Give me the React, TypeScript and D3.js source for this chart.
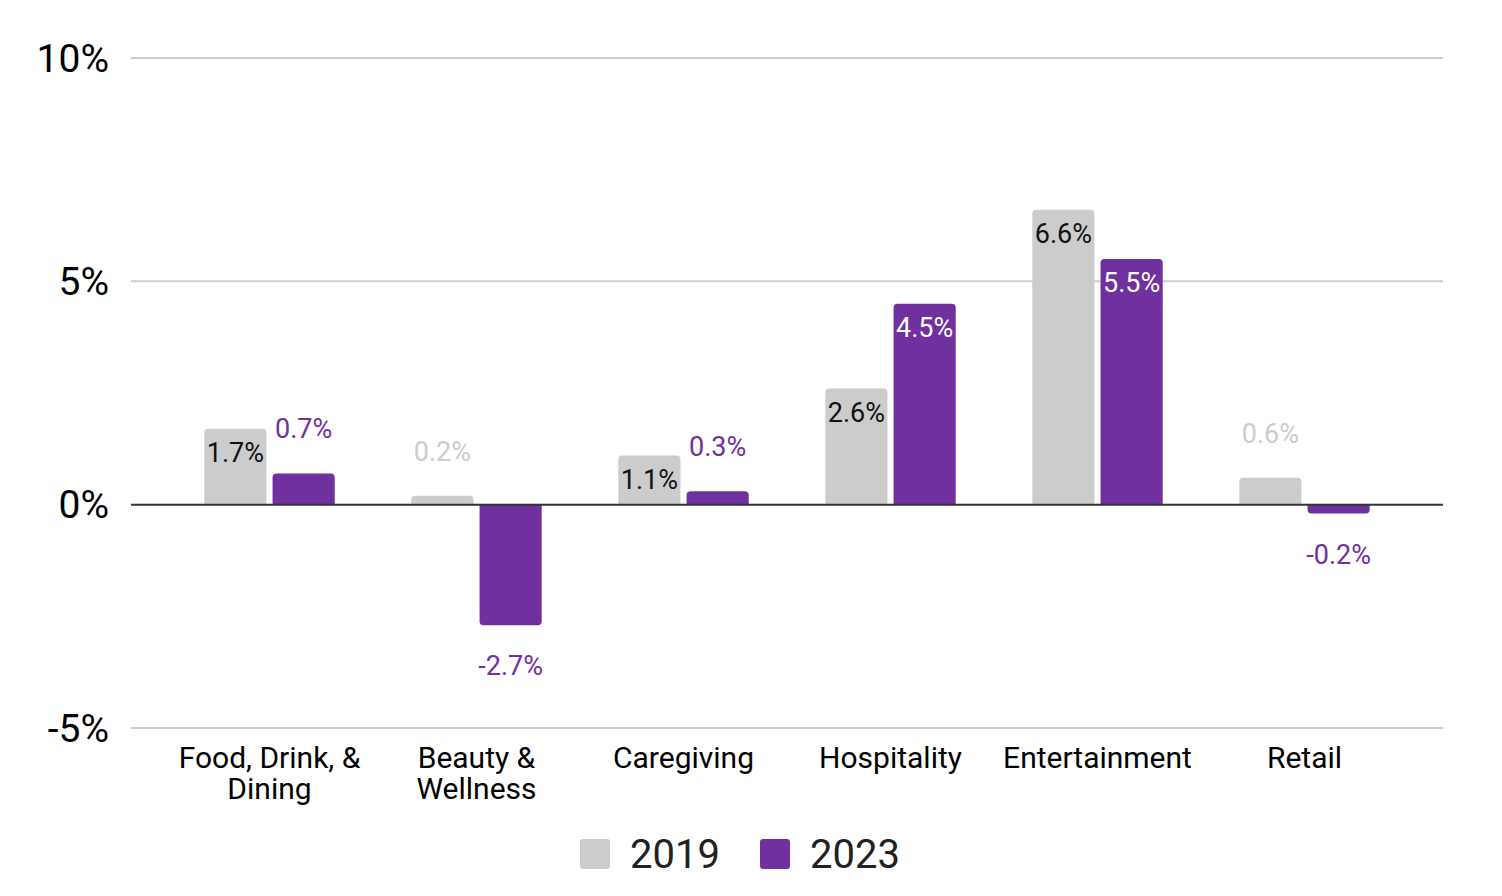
import * as d3 from "d3";
import { useEffect, useRef } from "react";

const categories = [
  "Food, Drink, &|Dining",
  "Beauty &|Wellness",
  "Caregiving",
  "Hospitality",
  "Entertainment",
  "Retail",
];
const series = ["2019", "2023"];
const values2019 = [1.7, 0.2, 1.1, 2.6, 6.6, 0.6];
const values2023 = [0.7, -2.7, 0.3, 4.5, 5.5, -0.2];
const yTicks = [-5, 0, 5, 10];

const GRAY = "#cccccc";
const PURPLE = "#7030a0";
const FONT = "Roboto, 'Noto Sans', sans-serif";

const App: React.FC = () => {
  const ref = useRef<SVGSVGElement | null>(null);

  useEffect(() => {
    const width = 1502;
    const height = 896;
    const svg = d3.select(ref.current);
    svg.selectAll("*").remove();

    const y = d3.scaleLinear().domain([-5, 10]).range([728, 58]);
    const x0 = d3
      .scaleBand()
      .domain(categories)
      .range([166, 1408])
      .paddingInner(0.37)
      .paddingOuter(0.185);
    const x1 = d3
      .scaleBand()
      .domain(series)
      .range([0, x0.bandwidth()])
      .paddingInner(0.09);

    // gridlines
    svg
      .append("g")
      .selectAll("line")
      .data(yTicks.filter((t) => t !== 0))
      .enter()
      .append("line")
      .attr("x1", 131)
      .attr("x2", 1443)
      .attr("y1", (d) => y(d))
      .attr("y2", (d) => y(d))
      .attr("stroke", "#cccccc")
      .attr("stroke-width", 2);

    // tick labels
    svg
      .append("g")
      .selectAll("text")
      .data(yTicks)
      .enter()
      .append("text")
      .attr("x", 109)
      .attr("y", (d) => y(d))
      .attr("dy", "0.35em")
      .attr("text-anchor", "end")
      .attr("font-family", FONT)
      .attr("font-size", 39)
      .attr("fill", "#000")
      .text((d) => `${d}%`);

    const r = 4;
    const barPath = (bx: number, w: number, v: number) => {
      const y0 = y(0);
      const y1 = y(v);
      const h = Math.abs(y1 - y0);
      const rr = Math.min(r, h / 2, w / 2);
      if (v >= 0) {
        return `M${bx},${y0}V${y1 + rr}Q${bx},${y1} ${bx + rr},${y1}H${bx + w - rr}Q${bx + w},${y1} ${bx + w},${y1 + rr}V${y0}Z`;
      }
      return `M${bx},${y0}V${y1 - rr}Q${bx},${y1} ${bx + rr},${y1}H${bx + w - rr}Q${bx + w},${y1} ${bx + w},${y1 - rr}V${y0}Z`;
    };

    const data = categories.map((c, i) => ({
      cat: c,
      vals: [values2019[i], values2023[i]],
    }));

    const groups = svg
      .append("g")
      .selectAll("g")
      .data(data)
      .enter()
      .append("g")
      .attr("transform", (d) => `translate(${x0(d.cat)},0)`);

    groups
      .selectAll("path")
      .data((d) => d.vals.map((v, j) => ({ v, s: series[j] })))
      .enter()
      .append("path")
      .attr("d", (d) => barPath(x1(d.s) || 0, x1.bandwidth(), d.v))
      .attr("fill", (d) => (d.s === "2019" ? GRAY : PURPLE));

    // zero line
    svg
      .append("line")
      .attr("x1", 131)
      .attr("x2", 1443)
      .attr("y1", y(0))
      .attr("y2", y(0))
      .attr("stroke", "#333333")
      .attr("stroke-width", 2);

    // value labels
    groups
      .selectAll("text.val")
      .data((d) => d.vals.map((v, j) => ({ v, s: series[j] })))
      .enter()
      .append("text")
      .attr("class", "val")
      .attr("x", (d) => (x1(d.s) || 0) + x1.bandwidth() / 2)
      .attr("y", (d) => {
        const h = Math.abs(y(d.v) - y(0));
        if (d.v >= 0) return h > 40 ? y(d.v) + 33 : y(d.v) - 35;
        return y(d.v) + 50;
      })
      .attr("text-anchor", "middle")
      .attr("font-family", FONT)
      .attr("font-size", 27)
      .attr("fill", (d) => {
        const inside = d.v >= 0 && Math.abs(y(d.v) - y(0)) > 40;
        if (d.s === "2019") return inside ? "#111111" : GRAY;
        return inside ? "#ffffff" : PURPLE;
      })
      .text((d) => `${d.v.toFixed(1)}%`);

    // category labels
    const cl = svg
      .append("g")
      .selectAll("text")
      .data(categories)
      .enter()
      .append("text")
      .attr("x", (d) => (x0(d) || 0) + x0.bandwidth() / 2)
      .attr("y", 768)
      .attr("text-anchor", "middle")
      .attr("font-family", FONT)
      .attr("font-size", 30)
      .attr("fill", "#000");
    cl.each(function (d) {
      const lines = d.split("|");
      const t = d3.select(this);
      lines.forEach((ln, k) => {
        t.append("tspan")
          .attr("x", (x0(d) || 0) + x0.bandwidth() / 2)
          .attr("dy", k === 0 ? 0 : 31)
          .text(ln);
      });
    });

    // legend
    const legend = svg.append("g");
    const legendX = [580, 760];
    series.forEach((s, i) => {
      legend
        .append("rect")
        .attr("x", legendX[i])
        .attr("y", 839)
        .attr("width", 30)
        .attr("height", 30)
        .attr("rx", 3)
        .attr("fill", i === 0 ? GRAY : PURPLE);
      legend
        .append("text")
        .attr("x", legendX[i] + 50)
        .attr("y", 868)
        .attr("font-family", FONT)
        .attr("font-size", 40)
        .attr("fill", "#212121")
        .text(s);
    });

    svg.attr("width", width).attr("height", height);
  }, []);

  return (
    <svg
      ref={ref}
      width={1502}
      height={896}
      style={{ position: "absolute", left: 0, top: 0, background: "#fff" }}
    />
  );
};

export default App;
